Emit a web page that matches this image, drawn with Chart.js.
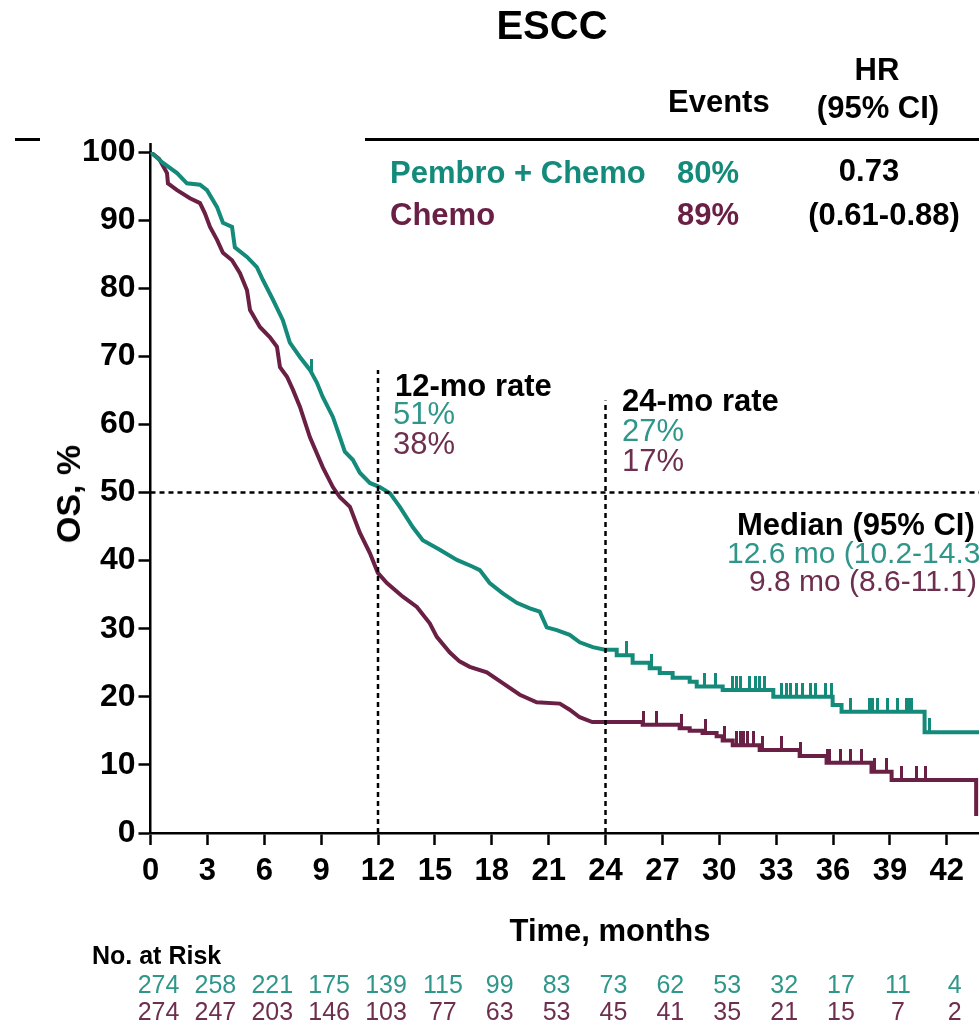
<!DOCTYPE html>
<html>
<head>
<meta charset="utf-8">
<script src="https://cdn.jsdelivr.net/npm/chart.js@4.4.1/dist/chart.umd.min.js"></script>
<style>
  html, body { margin:0; padding:0; background:#fff; }
  #wrap { position:relative; width:979px; height:1024px; overflow:hidden; background:#fff; }
  #c { position:absolute; left:0; top:0; }
  .t { position:absolute; white-space:nowrap; font-family:'Liberation Sans', Arial, sans-serif; }
  .rule { position:absolute; background:#000; }
</style>
</head>
<body>
<div id="wrap">
  <canvas id="c" width="979" height="1024"></canvas>
</div>
<script>
// ---------------- DATA ----------------
const xTicks = [0, 3, 6, 9, 12, 15, 18, 21, 24, 27, 30, 33, 36, 39, 42];
const yTicks = [0, 10, 20, 30, 40, 50, 60, 70, 80, 90, 100];

const pembroTime = [0, 0.66, 1.40, 1.92, 2.61, 2.98, 3.51, 3.82, 4.30, 4.45, 5.09, 5.61, 5.93, 6.46, 6.98, 7.35, 7.88, 8.41, 8.78, 9.09, 9.62, 9.88, 10.25, 10.67, 11.04, 11.57, 12.09, 12.63, 13.15, 13.84, 14.36, 15.26, 16.16, 17.00, 17.37, 17.89, 18.58, 19.32, 20.01, 20.53, 20.90, 21.43, 22.11, 22.64, 23.33, 23.96,
  24.59, 24.59, 25.43, 25.43, 26.33, 26.33, 26.86, 26.86, 27.54, 27.54, 28.44, 28.44, 28.81, 28.81, 30.18, 30.18, 32.85, 32.85, 35.98, 35.98, 36.45, 36.45, 40.83, 40.83, 43.7];
const pembroSurv = [100, 98.4, 96.9, 95.4, 95.2, 94.4, 91.9, 89.6, 89.0, 86.0, 84.6, 83.1, 81.2, 78.3, 75.3, 72.0, 69.9, 68.0, 66.1, 64.0, 61.1, 59.0, 56.0, 54.8, 52.9, 51.4, 50.8, 49.9, 47.9, 44.9, 43.0, 41.6, 40.1, 39.1, 38.6, 36.7, 35.2, 33.8, 33.0, 32.5, 30.2, 29.8, 29.1, 28.0, 27.3, 26.9,
  26.9, 26.1, 26.1, 25.0, 25.0, 24.2, 24.2, 23.5, 23.5, 22.8, 22.8, 22.2, 22.2, 21.5, 21.5, 21.0, 21.0, 20.0, 20.0, 18.8, 18.8, 17.8, 17.8, 14.8, 14.8];

const chemoTime = [0, 0.45, 0.87, 0.92, 1.40, 2.08, 2.61, 2.87, 3.14, 3.51, 3.82, 4.30, 4.72, 5.09, 5.25, 5.77, 6.30, 6.67, 6.83, 7.20, 7.51, 7.88, 8.41, 9.09, 9.62, 9.99, 10.52, 11.04, 11.57, 11.99, 12.47, 13.31, 14.05, 14.73, 15.10, 15.79, 16.30, 16.84, 17.74, 18.58, 19.48, 20.37, 21.59, 22.11, 22.64, 23.30,
  25.96, 25.96, 27.91, 27.91, 28.44, 28.44, 29.12, 29.12, 29.86, 29.86, 30.18, 30.18, 30.71, 30.71, 32.13, 32.13, 34.24, 34.24, 35.66, 35.66, 38.03, 38.03, 39.09, 39.09, 43.55, 43.55];
const chemoSurv = [100, 99.0, 96.9, 95.4, 94.4, 93.2, 92.5, 91.0, 89.0, 87.1, 85.2, 84.1, 82.2, 79.7, 76.8, 74.3, 72.8, 71.4, 68.4, 67.0, 65.1, 62.6, 58.1, 53.7, 50.8, 49.3, 47.9, 44.1, 41.1, 38.2, 36.7, 34.7, 33.2, 30.8, 28.8, 26.5, 25.2, 24.4, 23.6, 22.0, 20.3, 19.2, 19.0, 18.1, 17.0, 16.3,
  16.3, 15.9, 15.9, 15.4, 15.4, 15.0, 15.0, 14.7, 14.7, 14.2, 14.2, 13.6, 13.6, 12.9, 12.9, 12.2, 12.2, 11.3, 11.3, 10.3, 10.3, 9.0, 9.0, 7.8, 7.8, 2.5];

const pembroCensor = [8.5, 25.1, 26.4, 29.2, 29.8, 30.7, 30.9, 31.1, 31.6, 31.9, 32.1, 32.4, 33.3, 33.55, 33.75, 34.1, 34.4, 34.8, 35.1, 35.6, 35.9, 36.9, 37.9, 38.1, 38.35, 38.9, 39.4, 39.9, 40.05, 40.15, 41.1];
const chemoCensor = [26.0, 26.7, 28.0, 29.3, 30.3, 30.9, 31.1, 31.3, 31.5, 31.8, 32.3, 33.3, 34.3, 35.7, 35.8, 36.4, 36.9, 37.5, 38.2, 38.8, 39.6, 40.4, 40.9];

const riskPembro = [274, 258, 221, 175, 139, 115, 99, 83, 73, 62, 53, 32, 17, 11, 4];
const riskChemo  = [274, 247, 203, 146, 103, 77, 63, 53, 45, 41, 35, 21, 15, 7, 2];

const landmarkMonths = [12, 24];
const landmarkTop = [68, 63.5];
const medianLevel = 50;
const xMax = 43.7;

// ---------------- STYLE ----------------
const TEAL = '#138a7a';
const MAROON = '#6a2045';
const TEAL_LIGHT = '#2f968a';
const MAROON_LIGHT = '#6e2f4e';
const FONT = "'Liberation Sans', Arial, sans-serif";

function toPts(ts, ss) { return ts.map((t, i) => ({ x: t, y: ss[i] })); }
function valueAt(ts, ss, t) {
  let v = ss[0];
  for (let i = 0; i < ts.length; i++) {
    if (ts[i] <= t) {
      v = ss[i];
      if (i + 1 < ts.length && ts[i + 1] > t && ts[i + 1] !== ts[i]) {
        const f = (t - ts[i]) / (ts[i + 1] - ts[i]);
        if (ss[i + 1] !== ss[i] && !(ts[i + 1] === ts[i + 2])) v = ss[i] + f * (ss[i + 1] - ss[i]);
      }
    }
  }
  return v;
}
function tickImg(color) {
  const c = document.createElement('canvas');
  c.width = 3; c.height = 28;
  const g = c.getContext('2d');
  g.fillStyle = color;
  g.fillRect(0, 0, 3, 14);
  return c;
}

const datasets = [];
landmarkMonths.forEach((m, i) => {
  datasets.push({ data: [{ x: m, y: 0 }, { x: m, y: landmarkTop[i] }], showLine: true, borderColor: '#000', borderWidth: 2.5, borderDash: [5, 4], pointRadius: 0, order: 0 });
});
datasets.push({ data: [{ x: 0, y: medianLevel }, { x: xMax, y: medianLevel }], showLine: true, borderColor: '#000', borderWidth: 2.5, borderDash: [5, 4], pointRadius: 0, order: 0 });
datasets.push({ data: pembroCensor.map(t => ({ x: t, y: valueAt(pembroTime, pembroSurv, t) })), showLine: false, pointStyle: tickImg(TEAL), pointRadius: 6, order: 1 });
datasets.push({ data: chemoCensor.map(t => ({ x: t, y: valueAt(chemoTime, chemoSurv, t) })), showLine: false, pointStyle: tickImg(MAROON), pointRadius: 6, order: 1 });
datasets.push({ data: toPts(pembroTime, pembroSurv), showLine: true, borderColor: TEAL, borderWidth: 4, pointRadius: 0, tension: 0, order: 2, borderJoinStyle: 'miter' });
datasets.push({ data: toPts(chemoTime, chemoSurv), showLine: true, borderColor: MAROON, borderWidth: 4, pointRadius: 0, tension: 0, order: 3, borderJoinStyle: 'miter' });

const axisExtras = {
  id: 'axisExtras',
  afterDraw(chart) {
    const a = chart.chartArea, g = chart.ctx;
    g.save();
    g.strokeStyle = '#000'; g.lineWidth = 2.5;
    g.beginPath(); g.moveTo(a.left, a.top - 9); g.lineTo(a.left, a.top); g.stroke();
    g.restore();
  }
};

const chart = new Chart(document.getElementById('c'), {
  type: 'scatter',
  data: { datasets },
  plugins: [axisExtras],
  options: {
    responsive: false,
    animation: false,
    layout: { autoPadding: false, padding: { left: 0, right: 0, top: 152, bottom: 131 } },
    plugins: { legend: { display: false }, tooltip: { enabled: false } },
    scales: {
      x: {
        type: 'linear', min: 0, max: xMax,
        afterBuildTicks: s => { s.ticks = xTicks.map(v => ({ value: v })); },
        afterFit: s => { s.height = 60; s.paddingLeft = 0; s.paddingRight = 0; },
        grid: { drawOnChartArea: false, drawTicks: true, tickLength: 12, tickWidth: 2.5, tickColor: '#000' },
        border: { display: true, color: '#000', width: 2.5 },
        ticks: { color: '#000', font: { family: FONT, size: 31, weight: 'bold' }, padding: 8, maxRotation: 0, autoSkip: false }
      },
      y: {
        type: 'linear', min: 0, max: 100,
        afterBuildTicks: s => { s.ticks = yTicks.map(v => ({ value: v })); },
        afterFit: s => { s.width = 150.5; s.paddingTop = 0; s.paddingBottom = 0; },
        grid: { drawOnChartArea: false, drawTicks: true, tickLength: 12, tickWidth: 2.5, tickColor: '#000' },
        border: { display: true, color: '#000', width: 2.5 },
        ticks: { color: '#000', font: { family: FONT, size: 32, weight: 'bold' }, padding: 3 }
      }
    }
  }
});

// ---------------- TEXT ----------------
const wrap = document.getElementById('wrap');
function txt(s, opt) {
  const d = document.createElement('div');
  d.className = 't';
  d.textContent = s;
  const size = opt.size;
  d.style.fontSize = size + 'px';
  d.style.lineHeight = size + 'px';
  d.style.fontWeight = opt.bold ? 'bold' : 'normal';
  d.style.color = opt.color || '#000';
  d.style.top = (opt.cy - 0.49 * size) + 'px';
  if (opt.align === 'center') { d.style.left = opt.x + 'px'; d.style.transform = 'translateX(-50%)'; }
  else if (opt.align === 'right') { d.style.right = (979 - opt.x) + 'px'; }
  else { d.style.left = opt.x + 'px'; }
  wrap.appendChild(d);
  return d;
}
function rule(l, t, w, h) {
  const d = document.createElement('div');
  d.className = 'rule';
  d.style.left = l + 'px'; d.style.top = t + 'px'; d.style.width = w + 'px'; d.style.height = h + 'px';
  wrap.appendChild(d);
}

txt('ESCC', { x: 552, cy: 25, size: 40, bold: true, align: 'center' });
txt('HR', { x: 877, cy: 69, size: 31, bold: true, align: 'center' });
txt('Events', { x: 668, cy: 101, size: 31, bold: true });
txt('(95% CI)', { x: 878, cy: 107, size: 31, bold: true, align: 'center' });
rule(365, 138, 614, 3);
rule(15, 138, 25, 3);
txt('Pembro + Chemo', { x: 390, cy: 172, size: 31, bold: true, color: TEAL });
txt('80%', { x: 739, cy: 172, size: 31, bold: true, color: TEAL, align: 'right' });
txt('Chemo', { x: 390, cy: 214, size: 31, bold: true, color: MAROON });
txt('89%', { x: 739, cy: 214, size: 31, bold: true, color: MAROON, align: 'right' });
txt('0.73', { x: 869, cy: 170, size: 31, bold: true, align: 'center' });
txt('(0.61-0.88)', { x: 884, cy: 214, size: 31, bold: true, align: 'center' });

txt('12-mo rate', { x: 395, cy: 385, size: 31, bold: true });
txt('51%', { x: 393, cy: 413, size: 31, color: TEAL_LIGHT });
txt('38%', { x: 393, cy: 443, size: 31, color: MAROON_LIGHT });
txt('24-mo rate', { x: 622, cy: 400, size: 31, bold: true });
txt('27%', { x: 622, cy: 430, size: 31, color: TEAL_LIGHT });
txt('17%', { x: 622, cy: 460, size: 31, color: MAROON_LIGHT });
txt('Median (95% CI)', { x: 737, cy: 524, size: 31, bold: true });
txt('12.6 mo (10.2-14.3)', { x: 727, cy: 553, size: 30, color: TEAL_LIGHT });
txt('9.8 mo (8.6-11.1)', { x: 749, cy: 581, size: 30, color: MAROON_LIGHT });

const os = txt('OS, %', { x: 68, cy: 494, size: 34, bold: true });
os.style.top = '494px'; os.style.left = '68px';
os.style.transform = 'translate(-50%, -50%) rotate(-90deg)';

txt('Time, months', { x: 610, cy: 930, size: 31, bold: true, align: 'center' });
txt('No. at Risk', { x: 92, cy: 955, size: 25, bold: true });

const xs = chart.scales.x;
xTicks.forEach((t, i) => {
  const px = xs.getPixelForValue(t) + 8;
  txt(String(riskPembro[i]), { x: px, cy: 984, size: 25, color: TEAL_LIGHT, align: 'center' });
  txt(String(riskChemo[i]), { x: px, cy: 1011, size: 25, color: MAROON_LIGHT, align: 'center' });
});
</script>
</body>
</html>
